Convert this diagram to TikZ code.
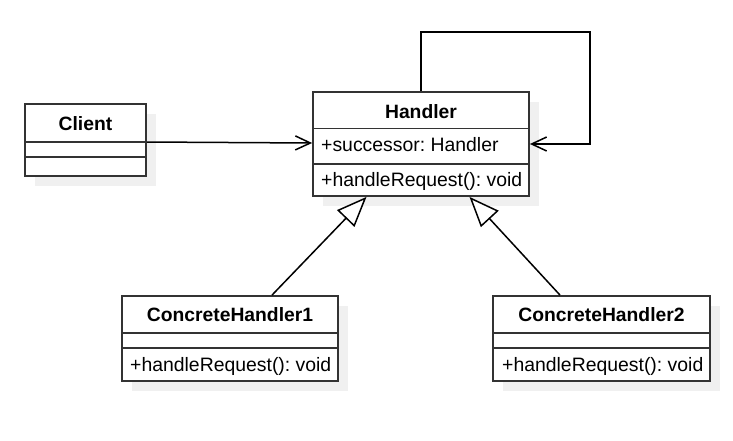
\documentclass[tikz,border=0pt]{standalone}
\usepackage{fontspec}
\setmainfont{Liberation Sans}
\frenchspacing
\usetikzlibrary{arrows.meta,shadows}
\definecolor{boxc}{HTML}{333333}
\definecolor{shadc}{HTML}{F0F0F0}
\begin{document}
\begin{tikzpicture}[x=1pt,y=-1pt,
  classbox/.style={draw=boxc, line width=1.8pt, fill=white, inner sep=0pt,
    drop shadow={shadow xshift=10pt, shadow yshift=-10pt, fill=shadc, opacity=1}},
  divider/.style={draw=boxc, line width=1.8pt},
  titletext/.style={font=\fontsize{19.3}{22}\selectfont\bfseries, anchor=base, inner sep=0pt},
  membertext/.style={font=\fontsize{19.4}{22}\selectfont\frenchspacing, anchor=base west, inner sep=0pt},
  assoc/.style={line width=1.5pt, -{Straight Barb[length=15pt,width=14pt]}},
  inherit/.style={line width=1.5pt, -{Triangle[open,length=30pt,width=24pt,fill=white]}}
]
\useasboundingbox (0,0) rectangle (733,440);

% boxes
\node[classbox, minimum width=121pt, minimum height=72pt] (client) at (85.5,140) {};
\node[classbox, minimum width=216pt, minimum height=104pt] (handler) at (421,144) {};
\node[classbox, minimum width=216pt, minimum height=85pt] (ch1) at (230,338.5) {};
\node[classbox, minimum width=217pt, minimum height=85pt] (ch2) at (601.5,338.5) {};

% dividers
\draw[divider] (client.west |- 0,142) -- (client.east |- 0,142);
\draw[divider] (client.west |- 0,157) -- (client.east |- 0,157);
\draw[divider] (handler.west |- 0,128.5) -- (handler.east |- 0,128.5);
\draw[divider] (handler.west |- 0,164) -- (handler.east |- 0,164);
\draw[divider] (ch1.west |- 0,333) -- (ch1.east |- 0,333);
\draw[divider] (ch1.west |- 0,348) -- (ch1.east |- 0,348);
\draw[divider] (ch2.west |- 0,333) -- (ch2.east |- 0,333);
\draw[divider] (ch2.west |- 0,348) -- (ch2.east |- 0,348);

% texts
\node[titletext] (clientT) at (85.5,130) {Client};
\node[titletext] (handlerT) at (421,118) {Handler};
\node[membertext] (handlerA) at (321,151.7) {+successor: Handler};
\node[membertext] (handlerM) at (321,186.5) {+handleRequest(): void};
\node[titletext] (ch1T) at (230,321.7) {ConcreteHandler1};
\node[membertext] (ch1M) at (130,371.7) {+handleRequest(): void};
\node[titletext] (ch2T) at (601.5,321.7) {ConcreteHandler2};
\node[membertext] (ch2M) at (502,371.7) {+handleRequest(): void};

% connectors
\draw[assoc] ([yshift=-2pt]client.east) -- ([yshift=1pt]handler.west);
\coordinate (loop) at (590,32);
\draw[assoc] (handler.north) |- (loop) |- (handler.east);
\draw[inherit] ([xshift=42pt]ch1.north) -- ([xshift=-54.5pt]handler.south);
\draw[inherit] ([xshift=-41.5pt]ch2.north) -- ([xshift=48.5pt]handler.south);
\end{tikzpicture}
\end{document}
